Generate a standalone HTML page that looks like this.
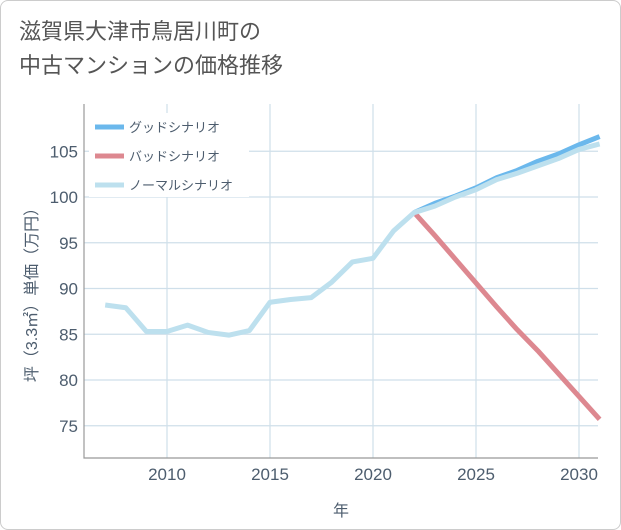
<!DOCTYPE html>
<html><head><meta charset="utf-8"><style>
body{margin:0;background:#fff;}
.card{position:absolute;left:0;top:0;width:619px;height:528px;border:1px solid #ccc;border-radius:8px;background:#fff;overflow:hidden;font-family:"Liberation Sans","Noto Sans CJK JP",sans-serif;}
.title{position:absolute;left:18px;top:14px;font-size:22px;line-height:34px;color:#555;}
</style></head><body>
<div class="card">
<div class="title">滋賀県大津市鳥居川町の<br>中古マンションの価格推移</div>
<svg id="chart" width="621" height="530" style="position:absolute;left:0;top:0"></svg>
</div>
<script>
const years=[2007,2008,2009,2010,2011,2012,2013,2014,2015,2016,2017,2018,2019,2020,2021,2022,2023,2024,2025,2026,2027,2028,2029,2030,2031];
const normalVals=[88.2,87.9,85.3,85.3,86.0,85.2,84.9,85.4,88.5,88.8,89.0,90.7,92.9,93.3,96.3,98.3,99.0,100.0,100.8,101.9,102.6,103.4,104.2,105.2,105.8];
const goodYears=[2022,2023,2024,2025,2026,2027,2028,2029,2030,2031];
const goodVals=[98.3,99.3,100.1,101.0,102.1,102.9,103.9,104.7,105.7,106.6];
const badVals=[98.3,95.8,93.2,90.6,88.0,85.5,83.2,80.7,78.2,75.7];
const xTicks=[2010,2015,2020,2025,2030];
const yTicks=[75,80,85,90,95,100,105];
const NS='http://www.w3.org/2000/svg';
const svg=document.getElementById('chart');
const L=83,R=597,T=103,B=457;
const x=v=>166+(v-2010)*20.6;
const y=v=>196+(100-v)*9.15;
const TC='#4d5d6e';
function mk(t,a,p){const e=document.createElementNS(NS,t);for(const k in a)e.setAttribute(k,a[k]);(p||svg).appendChild(e);return e;}
xTicks.forEach(t=>{
 const g=mk('line',{x1:x(t),x2:x(t),y1:T,y2:B,stroke:'#cfdfea','stroke-width':1.2});
 
 
 const l=mk('text',{x:x(t),y:479,'text-anchor':'middle','font-size':17,fill:TC});
 l.textContent=t;
 
 
});
yTicks.forEach(t=>{
 const g=mk('line',{x1:L,x2:R,y1:y(t),y2:y(t),stroke:'#cfdfea','stroke-width':1.2});
 
 
 const l=mk('text',{x:77,y:y(t)+6,'text-anchor':'end','font-size':17,fill:TC});
 l.textContent=t;
 
 
});
const ax=mk('path',{d:`M${L},${T} V${B} H${R}`,fill:'none',stroke:'#999','stroke-width':1.2});


function line(xs,vs,color,w,name){
 const p=mk('polyline',{points:xs.map((v,i)=>x(v)+','+y(vs[i])).join(' '),fill:'none',stroke:color,'stroke-width':w,'stroke-linejoin':'round'});
 
 
}
line(goodYears,goodVals,'#6bb8ec',5,'good-scenario-line');
line(goodYears,badVals,'#dd8890',5,'bad-scenario-line');
line(years,normalVals,'#bde0ee',5,'normal-scenario-line');
const lg=mk('rect',{x:88,y:112,width:160,height:84,fill:'#fff'});


[['グッドシナリオ','#6bb8ec'],['バッドシナリオ','#dd8890'],['ノーマルシナリオ','#bde0ee']].forEach((e,i)=>{
 const yy=126+i*29;
 const s=mk('line',{x1:94,x2:123,y1:yy,y2:yy,stroke:e[1],'stroke-width':5});
 
 
 const t=mk('text',{x:128,y:yy+5,'font-size':13,fill:TC});
 t.textContent=e[0];
 
 
});
const xt=mk('text',{x:340,y:515,'text-anchor':'middle','font-size':16,fill:TC});
xt.textContent='年';


const yt=mk('text',{x:0,y:0,'text-anchor':'middle','font-size':16,fill:TC,transform:'translate(36,290) rotate(-90)'});
yt.textContent='坪（3.3㎡）単価（万円）';


</script>
</body></html>
